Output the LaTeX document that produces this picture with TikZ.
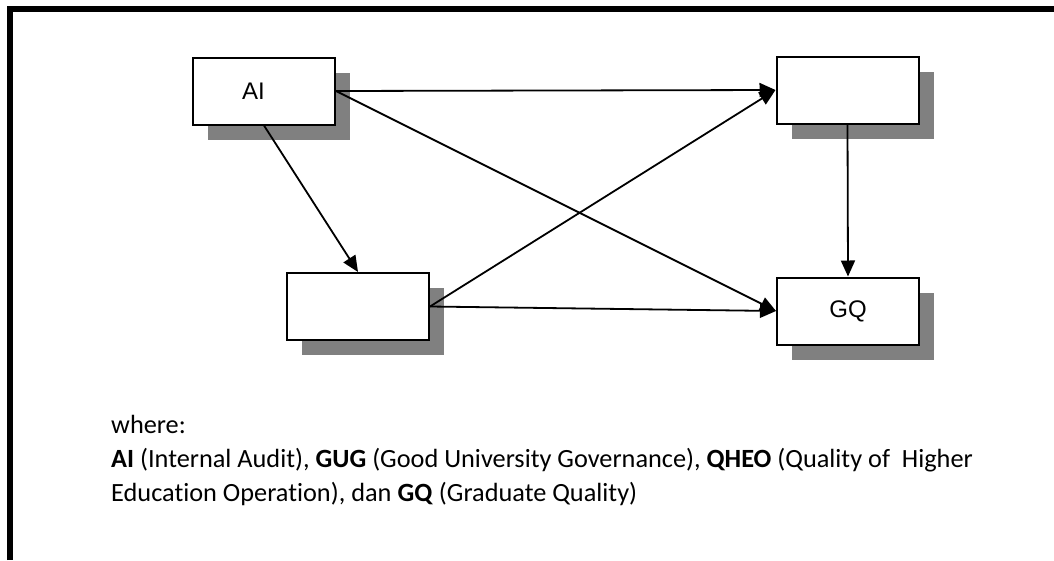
\documentclass[tikz,border=0pt]{standalone}
\usepackage{fontspec}
\setmainfont{Carlito}[Ligatures=NoCommon]
\newfontfamily\boxfont{Liberation Sans}
\usetikzlibrary{arrows.meta,shadows}

\begin{document}
\begin{tikzpicture}[x=1pt,y=-1pt,
  model/.style={draw=black, line width=2pt, fill=white,
    minimum width=142pt, minimum height=67pt, inner sep=0pt,
    font=\boxfont\fontsize{24}{28}\selectfont,
    general shadow={fill=gray, shadow xshift=15pt, shadow yshift=-15pt}},
  link/.style={line width=1.8pt, -{Triangle[length=16pt,width=14pt]}},
  legendline/.style={anchor=base west, inner sep=0pt,
    font=\fontsize{26.3}{34}\selectfont},
]
\useasboundingbox (0,0) rectangle (1054,560);

% open frame: heavy rule on the left and top
\draw[line width=6pt] (10,560) -- (10,9) -- (1054,9);

% model boxes
\node[model] (AI)   at (264,91)    {AI\hspace*{21pt}};
\node[model] (QHEO) at (847.5,90)  {};
\node[model] (GUG)  at (358,306.5) {};
\node[model] (GQ)   at (848,311)   {GQ};

% paths
\draw[link] (AI.east)    -- (QHEO.west);
\draw[link] (AI.east)    -- (GQ.west);
\draw[link] (AI.south)   -- (GUG.north);
\draw[link] (GUG.east)   -- (QHEO.west);
\draw[link] (GUG.east)   -- (GQ.west);
\draw[link] (QHEO.south) -- (GQ.north);

% legend
\node[legendline] (l1) at (111,433) {where:};
\node[legendline] (l2) at (111,467) {\textbf{AI} (Internal Audit), \textbf{GUG} (Good University Governance), \textbf{QHEO} (Quality of~ Higher};
\node[legendline] (l3) at (111,501) {Education Operation), dan \textbf{GQ} (Graduate Quality)};
\end{tikzpicture}
\end{document}
